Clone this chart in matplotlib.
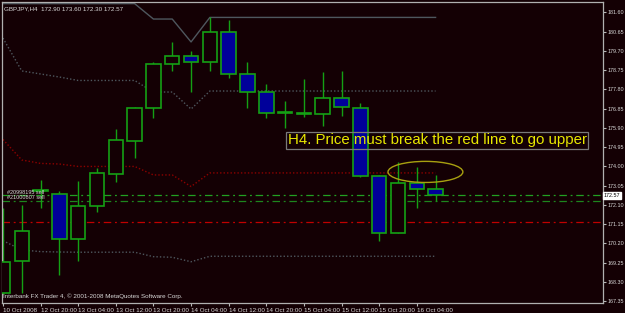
import matplotlib.pyplot as plt
import numpy as np
from matplotlib.patches import Ellipse

plt.rcParams["font.family"] = ["Liberation Sans", "DejaVu Sans"]

# GBPJPY H4 candles (10 Oct 2008 .. 16 Oct 04:00)
opens = [167.76, 169.34, 172.77, 172.64, 170.42, 172.05, 173.63, 175.25, 176.88, 179.05, 179.45, 179.15,
         180.63, 178.56, 177.67, 176.65, 176.61, 176.59, 177.37, 176.88, 173.53, 170.72, 173.18, 172.90]
highs = [171.95, 172.10, 173.33, 172.79, 173.28, 173.92, 175.85, 176.93, 179.15, 180.14, 179.69, 181.37,
         181.22, 179.15, 178.06, 177.23, 178.31, 178.66, 178.71, 177.13, 173.56, 174.22, 173.97, 173.60]
lows = [167.71, 167.76, 171.95, 168.65, 169.34, 171.75, 173.23, 174.42, 176.39, 178.71, 177.67, 178.71,
        178.36, 176.88, 176.39, 175.89, 176.44, 175.99, 176.49, 173.50, 170.32, 170.70, 171.95, 172.30]
closes = [169.29, 170.82, 172.82, 170.42, 172.05, 173.68, 175.30, 176.88, 179.05, 179.45, 179.15, 180.63,
          178.56, 177.67, 176.63, 176.68, 176.64, 177.37, 176.93, 173.53, 170.72, 173.18, 172.89, 172.57]

# indicator lines
upper = [182.03] * 8 + [181.27, 181.27, 180.14] + [181.35] * 13
middle = [180.33, 178.71, 178.56, 178.41, 178.24, 178.24, 178.24, 178.24, 177.67, 177.67, 176.83] + [177.72] * 13
lower = [170.34, 169.88, 169.80, 169.78, 169.77, 169.77, 169.77, 169.77, 169.55, 169.52, 169.30] + [169.57] * 13
red_line = [175.33, 174.32, 174.15, 174.12, 174.00, 174.00, 174.00, 174.00, 173.58, 173.58, 173.01] + [173.68] * 13

# order / level lines
order_levels = [172.57, 172.30]
order_labels = ["#20998195 sell", "#21000807 sell"]
stop_level = 171.25

time_labels = ["10 Oct 2008", "12 Oct 20:00", "13 Oct 04:00", "13 Oct 12:00", "13 Oct 20:00", "14 Oct 04:00",
               "14 Oct 12:00", "14 Oct 20:00", "15 Oct 04:00", "15 Oct 12:00", "15 Oct 20:00", "16 Oct 04:00"]
price_ticks = [167.35, 168.30, 169.25, 170.20, 171.15, 172.10, 173.05, 174.00, 174.95, 175.90, 176.85,
               177.80, 178.75, 179.70, 180.65, 181.60]

bg = "#140004"
green = "#14a014"
blue = "#00009a"
txt = "#d8d8d8"

fig = plt.figure(figsize=(6.25, 3.13), dpi=100, facecolor=bg)
ax = fig.add_axes([2 / 625, 10.3 / 313, 601 / 625, 300.7 / 313], facecolor=bg)

idx = np.arange(len(opens))
o, h, l, c = map(np.array, (opens, highs, lows, closes))
bull = c >= o

# channel / red lines
ax.plot(idx, upper, color="#4e575e", lw=1.0, zorder=1)
ax.plot(idx, middle, color="#4e575e", lw=1.0, ls=(0, (1, 1.5)), zorder=1)
ax.plot(idx, lower, color="#4e575e", lw=1.0, ls=(0, (1, 1.5)), zorder=1)
ax.plot(idx, red_line, color="#8c0000", lw=1.0, ls=(0, (1, 1.5)), zorder=1)

ax.axhline(order_levels[0], color="#22a022", lw=0.9, ls=(0, (6, 3, 1.5, 3)), zorder=1)
ax.axhline(order_levels[1], color="#1d861d", lw=0.9, ls=(0, (6, 3, 1.5, 3)), zorder=1)
ax.axhline(stop_level, color="#c00000", lw=0.9, ls=(0, (6, 3, 1.5, 3)), zorder=1)

# candles
ax.vlines(idx, l, h, color=green, lw=1.0, zorder=2)
body_low = np.minimum(o, c)
body_h = np.maximum(np.abs(c - o), 0.04)
ax.bar(idx, body_h, bottom=body_low, width=0.77,
       color=[bg if b else blue for b in bull], edgecolor=green, linewidth=1.2, zorder=3)

# annotations
ax.text(15.15, 175.30, "H4. Price must break the red line to go upper", color="#e8e800",
        fontsize=10.8, va="center", ha="left", zorder=5,
        bbox=dict(boxstyle="square,pad=0.1", fc="none", ec="#7a7a7a", lw=0.9))
ax.add_patch(Ellipse((22.46, 173.73), 3.98, 1.04, fill=False, ec="#a8a010", lw=1.0, zorder=5))

for lev, lab in zip(order_levels, order_labels):
    ax.text(0.2, lev + 0.04, lab, color=txt, fontsize=4.0, va="bottom", ha="left", zorder=4)

ax.text(0.004, 0.985, "GBPJPY,H4  172.90 173.60 172.30 172.57", transform=ax.transAxes,
        color=txt, fontsize=4.5, va="top", ha="left")
ax.text(0.002, 0.012, "Interbank FX Trader 4, \u00a9 2001-2008 MetaQuotes Software Corp.", transform=ax.transAxes,
        color=txt, fontsize=4.5, va="bottom", ha="left")

# current price tag
ax.text(1.001, closes[-1], "%.2f" % closes[-1], transform=ax.get_yaxis_transform(), color="black",
        fontsize=3.9, va="center", ha="left", zorder=6,
        bbox=dict(boxstyle="square,pad=0.2", fc="white", ec="white"))

ax.set_xlim(-0.05, 31.9)
ax.set_ylim(167.28, 182.11)

ax.yaxis.tick_right()
ax.set_yticks(price_ticks)
ax.set_yticklabels(["%.2f" % p for p in price_ticks])
ax.set_xticks(idx[::2])
ax.set_xticklabels(time_labels, ha="left")
ax.tick_params(colors="#b8b8b8", labelcolor=txt, labelsize=4.5, length=2.5, width=0.8, pad=1.5)
ax.tick_params(axis="y", labelsize=3.9, length=2, pad=1)

for s in ax.spines.values():
    s.set_color("#b0b0b0")
    s.set_linewidth(0.9)

fig.savefig("out.png", dpi=100, facecolor=bg)
